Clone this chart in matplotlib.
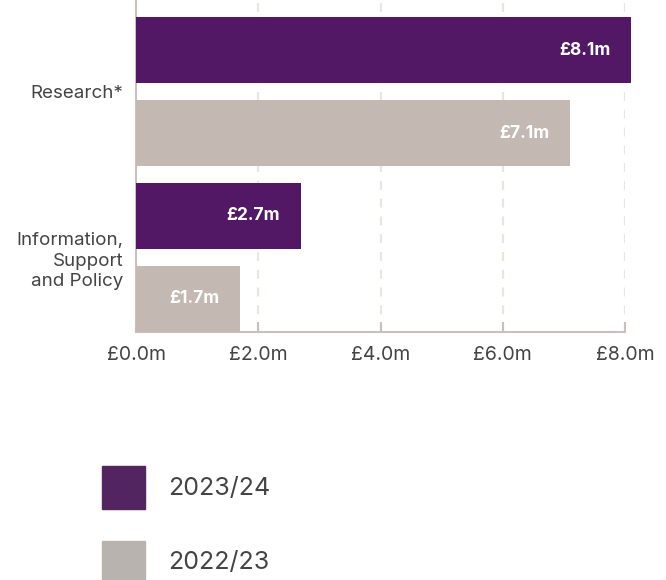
import matplotlib.pyplot as plt
from matplotlib.patches import Rectangle

plt.rcParams['font.family'] = ['Inter', 'DejaVu Sans']

# Spend by area, £m
categories = ['Research*', 'Information,\nSupport\nand Policy']
years = ['2023/24', '2022/23']
values_2324 = [8.1, 2.7]
values_2223 = [7.1, 1.7]
xticks = [0, 2, 4, 6, 8]

bar_colors = ['#521865', '#c4b8b3']
key_colors = ['#522460', '#b8b3ae']
spine_col = '#c9c0bb'
grid_col = '#ebe4df'
text_col = '#444444'

fig = plt.figure(figsize=(6.66, 5.8), dpi=100)
ax = fig.add_axes([136/666, 1 - 332/580, (625 - 136)/666, 332/580])

series = [values_2324, values_2223]
for i, cat in enumerate(categories):
    for j, vals in enumerate(series):
        pos = 2*i + j
        ax.barh(pos, vals[i], height=0.8, color=bar_colors[j],
                clip_on=False, zorder=3)
        ax.annotate(f'\u00a3{vals[i]:.1f}m', (vals[i], pos), xytext=(-15, 0),
                    textcoords='offset points', ha='right', va='center',
                    color='white', fontsize=12.5, fontweight='bold', zorder=4,
                    annotation_clip=False)

ax.set_xlim(0, 8)
ax.set_ylim(3.4, -0.605)
ax.set_xticks(xticks)
ax.set_xticklabels([f'\u00a3{v:.1f}m' for v in xticks])
ax.set_yticks([0.5, 2.5])
ax.set_yticklabels(categories, ha='right', linespacing=1.25)

ax.tick_params(axis='x', direction='in', length=7, width=1.5, color=spine_col,
               labelsize=14, labelcolor=text_col, pad=10)
ax.tick_params(axis='y', length=0, labelsize=13.5, labelcolor=text_col, pad=9)

for side in ['top', 'right']:
    ax.spines[side].set_visible(False)
for side in ['left', 'bottom']:
    ax.spines[side].set_color(spine_col)
    ax.spines[side].set_linewidth(1.5)

for v in xticks[1:]:
    ax.axvline(v, color=grid_col, lw=1.6, linestyle=(0, (4, 4)), zorder=1)

# key below the chart
for k, (yr, col) in enumerate(zip(years, key_colors)):
    top = 466 + 75*k
    fig.add_artist(Rectangle((102/666, 1 - (top + 43)/580), 43/666, 43/580,
                             transform=fig.transFigure, color=col))
    fig.text(168/666, 1 - (top + 22)/580, yr, ha='left', va='center',
             fontsize=18, color=text_col)

fig.savefig('out.png', dpi=100)
